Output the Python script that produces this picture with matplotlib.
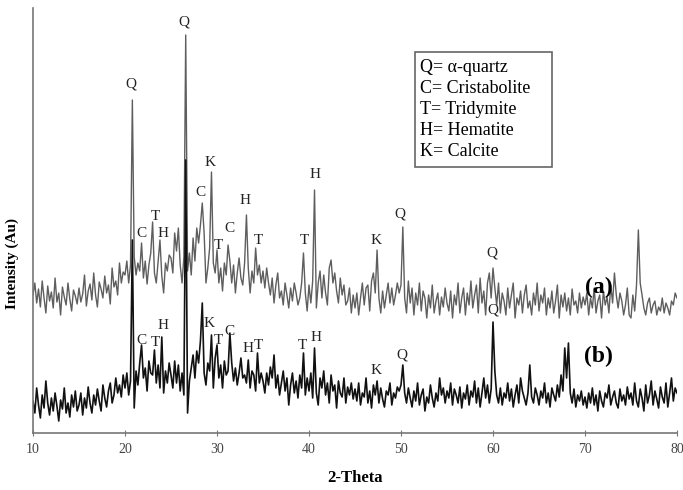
import matplotlib
matplotlib.use("Agg")
import matplotlib.pyplot as plt
from matplotlib.patches import Rectangle
import numpy as np

plt.rcParams['font.family'] = ['Liberation Serif', 'DejaVu Serif']

# 2-theta grid: 10 to 80 deg, 0.2 deg steps
theta_start = 10.0
theta_end = 80.0
n_points = 351

# intensity (arbitrary units), sample (a)
intensity_a = [
    138, 150, 130, 144, 126, 152, 135, 120, 147, 132, 141, 125, 155, 131, 140, 118, 146, 136, 128, 150, 134, 122, 143, 137, 129,
    145, 131, 139, 158, 127, 142, 149, 133, 160, 138, 126, 151, 144, 135, 157, 140, 148, 129, 165, 146, 152, 138, 170, 150, 161,
    158, 172, 150, 168, 333, 176, 158, 170, 162, 190, 155, 172, 149, 168, 180, 211, 160, 150, 172, 193, 157, 140, 170, 162, 178,
    175, 160, 200, 182, 205, 168, 150, 176, 398, 162, 180, 158, 195, 172, 205, 190, 208, 230, 200, 150, 165, 185, 261, 170, 160,
    183, 150, 165, 142, 170, 158, 188, 172, 150, 168, 140, 160, 175, 155, 148, 170, 218, 165, 140, 162, 150, 185, 158, 168, 150,
    162, 145, 165, 150, 138, 155, 130, 148, 160, 135, 142, 128, 150, 138, 125, 145, 132, 150, 140, 128, 135, 150, 180, 140, 122,
    148, 130, 152, 243, 125, 150, 162, 135, 158, 140, 128, 165, 173, 150, 160, 142, 130, 155, 138, 148, 128, 132, 145, 120, 138,
    125, 140, 118, 135, 150, 128, 145, 148, 122, 152, 160, 140, 183, 135, 120, 142, 125, 138, 150, 130, 145, 128, 138, 150, 140,
    148, 206, 135, 120, 152, 130, 145, 118, 140, 128, 150, 122, 142, 135, 115, 138, 125, 148, 120, 132, 140, 118, 136, 126, 145,
    130, 122, 142, 115, 138, 128, 150, 120, 135, 145, 118, 140, 128, 152, 125, 138, 148, 120, 155, 130, 142, 118, 150, 160, 135,
    165, 145, 128, 150, 120, 140, 132, 118, 145, 125, 138, 150, 115, 135, 128, 142, 120, 138, 148, 125, 132, 118, 140, 128, 150,
    122, 138, 130, 145, 118, 135, 125, 142, 120, 132, 148, 115, 138, 126, 140, 122, 135, 118, 144, 128, 132, 120, 140, 125, 136,
    128, 140, 118, 135, 125, 145, 120, 132, 138, 115, 142, 128, 136, 120, 148, 130, 160, 138, 125, 140, 132, 118, 128, 145, 118,
    115, 138, 122, 148, 203, 150, 138, 125, 118, 130, 135, 120, 128, 132, 118, 126, 122, 135, 120, 130, 125, 118, 132, 128, 140,
    135,
]

# sample (b)
intensity_b = [
    32, 20, 45, 28, 15, 38, 25, 52, 30, 18, 35, 22, 40, 27, 12, 33, 24, 45, 20, 30, 16, 38, 26, 42, 22,
    28, 40, 18, 35, 25, 46, 30, 20, 38, 28, 44, 32, 22, 48, 35, 26, 42, 50, 30, 38, 55, 40, 48, 36, 58,
    45, 60, 38, 52, 193, 25, 62, 48, 70, 88, 55, 65, 42, 72, 60, 58, 83, 50, 68, 45, 96, 40, 62, 50, 70,
    58, 45, 72, 50, 68, 42, 60, 38, 273, 20, 52, 65, 78, 55, 82, 70, 92, 130, 60, 48, 70, 62, 98, 45, 75,
    88, 55, 68, 45, 72, 58, 62, 100, 70, 52, 65, 48, 60, 75, 55, 58, 50, 73, 45, 62, 58, 42, 80, 50, 60,
    52, 40, 60, 48, 66, 55, 78, 45, 58, 38, 50, 62, 42, 55, 28, 48, 60, 40, 52, 35, 58, 45, 80, 38, 55,
    42, 60, 35, 85, 40, 28, 55, 45, 62, 38, 50, 30, 58, 42, 48, 25, 52, 40, 36, 55, 30, 46, 38, 50, 34,
    44, 32, 50, 28, 40, 36, 55, 30, 42, 25, 48, 38, 52, 30, 45, 34, 26, 42, 38, 50, 28, 40, 35, 46, 42,
    48, 68, 40, 30, 45, 35, 26, 42, 32, 50, 28, 38, 44, 22, 36, 30, 48, 35, 26, 40, 32, 55, 38, 45, 30,
    42, 35, 50, 28, 44, 38, 30, 46, 25, 40, 34, 48, 28, 42, 36, 52, 30, 45, 26, 40, 55, 35, 48, 30, 44,
    111, 62, 38, 30, 45, 28, 40, 35, 50, 32, 44, 26, 38, 48, 30, 55, 42, 35, 28, 40, 68, 36, 30, 45, 38,
    28, 42, 35, 50, 30, 40, 26, 45, 38, 32, 48, 36, 58, 42, 85, 55, 90, 40, 30, 44, 26, 38, 32, 42, 28,
    36, 25, 40, 30, 45, 28, 38, 22, 42, 32, 26, 40, 35, 48, 28, 36, 42, 30, 25, 44, 32, 38, 28, 46, 34,
    40, 28, 50, 32, 26, 44, 35, 22, 48, 30, 38, 52, 28, 42, 34, 25, 46, 36, 30, 50, 26, 40, 55, 32, 45,
    40,
]

# phase labels (letter, 2-theta, height)
labels_a = ["Q", "Q", "K", "C", "T", "C", "H", "T", "C", "H", "T", "T", "H", "K", "Q", "Q"]
labels_a_x = [20.6, 26.4, 29.25, 28.15, 23.35, 21.75, 24.15, 30.2, 31.3, 33.05, 34.55, 39.45, 40.65, 47.3, 49.9, 59.9]
labels_a_y = [349, 411, 271, 241, 217, 200, 200, 188, 205, 233, 193, 193, 259, 193, 219, 180]

labels_b = ["C", "T", "H", "K", "T", "C", "H", "T", "T", "H", "K", "Q", "Q"]
labels_b_x = [21.75, 23.25, 24.15, 29.15, 30.2, 31.4, 33.35, 34.55, 39.25, 40.75, 47.3, 50.1, 60.0]
labels_b_y = [93, 91, 108, 110, 93, 102, 85, 88, 88, 96, 63, 78, 123]

legend_lines = ["Q= α-quartz", "C= Cristabolite", "T= Tridymite", "H= Hematite", "K= Calcite"]

two_theta = np.linspace(theta_start, theta_end, n_points)

fig = plt.figure(figsize=(6.83, 4.90), dpi=100)
ax = fig.add_axes([33/683, 57/490, 644/683, 425/490])

ax.plot(two_theta, intensity_a, color='#5e5e5e', lw=1.0)
ax.plot(two_theta, intensity_b, color='#111111', lw=1.2)

for t, x, y in zip(labels_a, labels_a_x, labels_a_y):
    ax.text(x, y, t, ha='center', va='center', fontsize=11, color='#222222')
for t, x, y in zip(labels_b, labels_b_x, labels_b_y):
    ax.text(x, y, t, ha='center', va='center', fontsize=11, color='#222222')

ax.text(71.5, 146, "(a)", ha='center', va='center', fontsize=17, fontweight='bold')
ax.text(71.5, 77, "(b)", ha='center', va='center', fontsize=17, fontweight='bold')

# legend box
fig.patches.append(Rectangle((415/683, 1 - 167/490), 137/683, 115/490,
                             transform=fig.transFigure, facecolor='white',
                             edgecolor='#666666', lw=1.2, zorder=5))
fig.text(420/683, 1 - 59/490, "\n".join(legend_lines), ha='left', va='top',
         fontsize=13, linespacing=1.3, zorder=6)

ax.set_xlim(10, 80)
ax.set_ylim(0, 425)
ax.set_xticks(np.arange(10, 81, 10))
ax.set_yticks([])
ax.tick_params(axis='x', direction='inout', length=5, color='#777777', labelsize=10,
               labelcolor='#444444', pad=5)
for s in ['top', 'right']:
    ax.spines[s].set_visible(False)
for s in ['left', 'bottom']:
    ax.spines[s].set_color('#777777')
    ax.spines[s].set_linewidth(1.2)

ax.set_xlabel("2-Theta", fontsize=12, fontweight='bold', labelpad=10)
ax.set_ylabel("Intensity (Au)", fontsize=11, fontweight='bold')
ax.yaxis.set_label_coords(-0.021, 0.40)

fig.savefig("out.png", dpi=100)
